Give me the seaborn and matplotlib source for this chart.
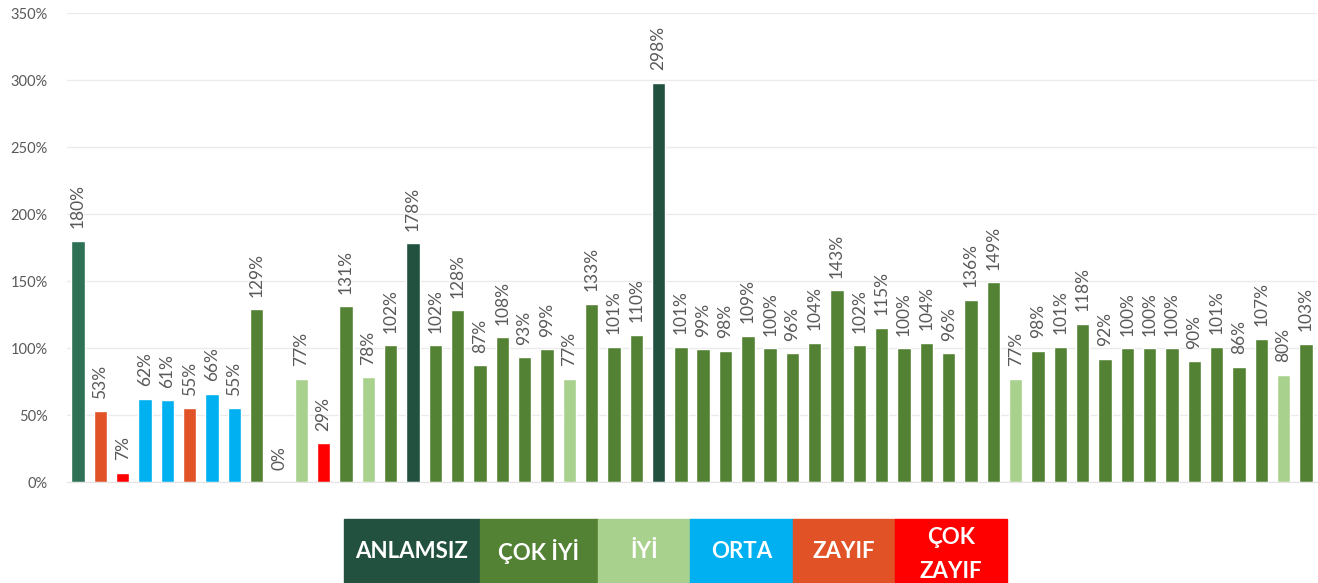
import matplotlib.pyplot as plt
import seaborn as sns
import pandas as pd
from matplotlib.patches import Rectangle

# bar values (%) in order, left to right
values = [180, 53, 7, 62, 61, 55, 66, 55, 129, 0, 77, 29, 131, 78, 102, 178,
          102, 128, 87, 108, 93, 99, 77, 133, 101, 110, 298, 101, 99, 98, 109,
          100, 96, 104, 143, 102, 115, 100, 104, 96, 136, 149, 77, 98, 101, 118,
          92, 100, 100, 100, 90, 101, 86, 107, 80, 103]

# grade of each bar
grades = ['ANLAMSIZ', 'ZAYIF', 'ÇOK ZAYIF', 'ORTA', 'ORTA', 'ZAYIF', 'ORTA', 'ORTA',
          'ÇOK İYİ', 'ÇOK ZAYIF', 'İYİ', 'ÇOK ZAYIF', 'ÇOK İYİ', 'İYİ', 'ÇOK İYİ', 'ANLAMSIZ',
          'ÇOK İYİ', 'ÇOK İYİ', 'ÇOK İYİ', 'ÇOK İYİ', 'ÇOK İYİ', 'ÇOK İYİ', 'İYİ', 'ÇOK İYİ',
          'ÇOK İYİ', 'ÇOK İYİ', 'ANLAMSIZ', 'ÇOK İYİ', 'ÇOK İYİ', 'ÇOK İYİ', 'ÇOK İYİ',
          'ÇOK İYİ', 'ÇOK İYİ', 'ÇOK İYİ', 'ÇOK İYİ', 'ÇOK İYİ', 'ÇOK İYİ', 'ÇOK İYİ', 'ÇOK İYİ',
          'ÇOK İYİ', 'ÇOK İYİ', 'ÇOK İYİ', 'İYİ', 'ÇOK İYİ', 'ÇOK İYİ', 'ÇOK İYİ',
          'ÇOK İYİ', 'ÇOK İYİ', 'ÇOK İYİ', 'ÇOK İYİ', 'ÇOK İYİ', 'ÇOK İYİ', 'ÇOK İYİ', 'ÇOK İYİ',
          'İYİ', 'ÇOK İYİ']

legend_labels = ['ANLAMSIZ', 'ÇOK İYİ', 'İYİ', 'ORTA', 'ZAYIF', 'ÇOK\nZAYIF']
grade_colors = {'ANLAMSIZ': '#225140', 'ÇOK İYİ': '#548235', 'İYİ': '#A9D18E',
                'ORTA': '#00B0F0', 'ZAYIF': '#E15227', 'ÇOK ZAYIF': '#FF0000'}

yticks = [0, 50, 100, 150, 200, 250, 300, 350]

df = pd.DataFrame({'idx': range(len(values)), 'value': values, 'grade': grades})
bar_colors = [grade_colors[g] for g in grades]
bar_colors[0] = '#2E7155'  # first bar is a lighter teal shade

sns.set_style('white')
plt.rcParams['font.family'] = ['Lato', 'DejaVu Sans']

fig = plt.figure(figsize=(13.18, 5.83), dpi=100)
ax = fig.add_axes([0.0508, 0.1732, 0.9485, 0.8045])

sns.barplot(data=df, x='idx', y='value', hue='idx', palette=bar_colors,
            legend=False, width=0.6, ax=ax, saturation=1)

for cont, v in zip(ax.containers, values):
    ax.bar_label(cont, labels=[f'{v}%'], rotation=90, padding=9,
                 fontsize=12.5, color='#595959')

ax.set_xlim(-0.5, len(values) - 0.5)
ax.set_ylim(0, 350)
ax.set_yticks(yticks)
ax.set_yticklabels([f'{t}%' for t in yticks], fontsize=10.5, color='#595959')
ax.set_xticks([])
ax.set_xlabel('')
ax.set_ylabel('')
ax.tick_params(axis='y', length=0, pad=14)
ax.grid(axis='y', color='#EBEBEB', linewidth=1)
ax.set_axisbelow(True)
for s in ['top', 'right', 'left']:
    ax.spines[s].set_visible(False)
ax.spines['bottom'].set_color('#E3E3E3')

# colour key under the chart (pixel edges converted to figure fractions)
W, H = 1318, 583
edges = [344, 480, 598, 690, 793, 895, 1007]
for i, lab in enumerate(legend_labels):
    x0, x1 = edges[i], edges[i + 1]
    key = lab.replace('\n', ' ')
    fig.patches.append(Rectangle((x0 / W, 0), (x1 - x0) / W, (583 - 519) / H,
                                 transform=fig.transFigure,
                                 color=grade_colors[key], zorder=1))
    if '\n' in lab:
        top, bottom = lab.split('\n')
        fig.text((x0 + x1) / 2 / W, (583 - 538) / H, top, ha='center', va='center',
                 color='white', fontsize=16, fontweight='bold')
        fig.text((x0 + x1) / 2 / W, (583 - 572) / H, bottom, ha='center', va='center',
                 color='white', fontsize=16, fontweight='bold')
    else:
        fig.text((x0 + x1) / 2 / W, (583 - 551) / H, lab, ha='center', va='center',
                 color='white', fontsize=16, fontweight='bold')

fig.savefig('out.png', dpi=100)
